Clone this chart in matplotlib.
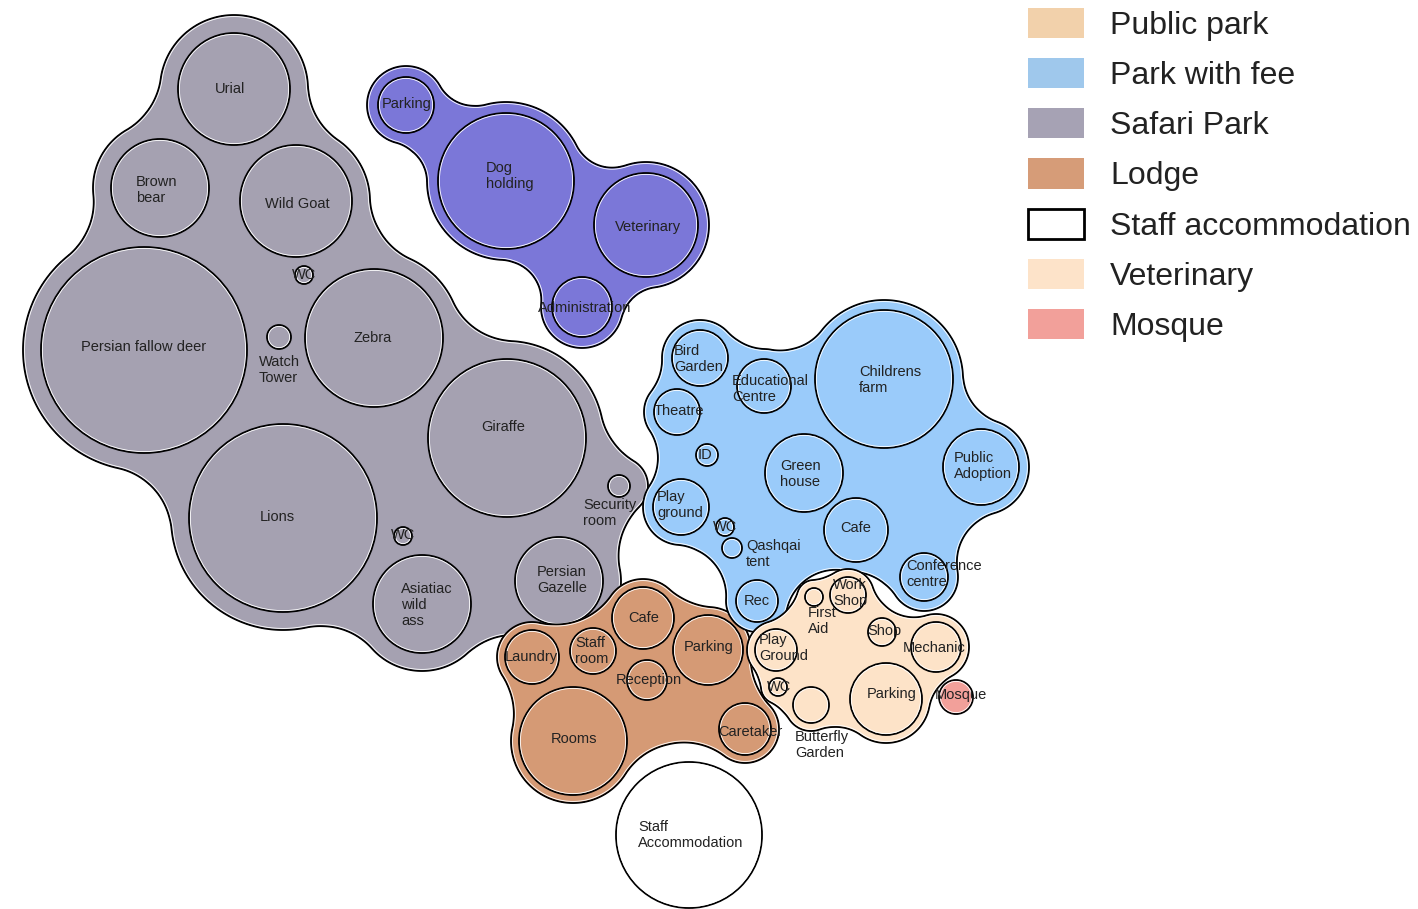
import matplotlib.pyplot as plt
import numpy as np
from matplotlib.patches import Circle, Patch
from contourpy import contour_generator

plt.rcParams['font.family'] = ['Liberation Sans', 'DejaVu Sans']

W, H = 1418, 909

# Safari Park
safari_names = ['Urial', 'Brown\nbear', 'Wild Goat', 'WC', 'Persian fallow deer', 'Watch\nTower',
                'Zebra', 'Giraffe', 'Security\nroom', 'Persian\nGazelle', 'Lions', 'WC', 'Asiatiac\nwild\nass']
safari_x = [234, 160, 296, 304, 144, 279, 374, 507, 619, 559, 283, 403, 422]
safari_y = [89, 188, 201, 275, 350, 337, 338, 438, 486, 581, 518, 536, 604]
safari_r = [56, 49, 56, 9, 103, 12, 69, 79, 11, 44, 94, 9, 49]
safari_lx = [215, 136, 265, 292, 81, 259, 354, 481, 583, 537, 260, 391, 401]
safari_ly = [89, 190, 204, 275, 347, 370, 338, 427, 513, 580, 517, 535, 605]

# Dog holding area (not in the legend)
dog_names = ['Parking', 'Dog\nholding', 'Veterinary', 'Administration']
dog_x = [406, 506, 646, 582]
dog_y = [105, 181, 225, 307]
dog_r = [28, 68, 52, 30]
dog_lx = [382, 486, 615, 538]
dog_ly = [104, 176, 227, 308]

# Park with fee
fee_names = ['Bird\nGarden', 'Educational\nCentre', 'Childrens\nfarm', 'Theatre', 'ID', 'Green\nhouse',
             'Public\nAdoption', 'Play\nground', 'WC', 'Qashqai\ntent', 'Cafe', 'Conference\ncentre', 'Rec']
fee_x = [700, 764, 884, 677, 707, 804, 981, 681, 725, 732, 856, 924, 757]
fee_y = [358, 386, 379, 412, 455, 473, 467, 507, 527, 548, 530, 577, 601]
fee_r = [28, 27, 69, 23, 11, 39, 38, 28, 9, 10, 32, 24, 21]
fee_lx = [674, 732, 859, 654, 698, 780, 954, 657, 713, 746, 840, 906, 744]
fee_ly = [359, 389, 380, 411, 455, 474, 466, 505, 527, 554, 528, 574, 601]

# Lodge
lodge_names = ['Cafe', 'Laundry', 'Staff\nroom', 'Parking', 'Reception', 'Rooms', 'Caretaker']
lodge_x = [643, 532, 593, 708, 647, 573, 745]
lodge_y = [618, 657, 651, 650, 680, 741, 729]
lodge_r = [31, 27, 23, 35, 20, 54, 26]
lodge_lx = [628, 505, 575, 684, 616, 551, 718]
lodge_ly = [618, 657, 651, 647, 680, 739, 732]

# Veterinary (light peach)
vet_names = ['First\nAid', 'Work\nShop', 'Shop', 'Mechanic', 'Play\nGround', 'WC', 'Butterfly\nGarden', 'Parking']
vet_x = [814, 848, 882, 936, 776, 778, 811, 886]
vet_y = [597, 595, 632, 647, 650, 687, 705, 699]
vet_r = [9, 18, 14, 25, 21, 9, 18, 36]
vet_lx = [808, 833, 867, 903, 759, 767, 795, 867]
vet_ly = [621, 593, 631, 648, 648, 687, 745, 694]

# single circles
staff_xyr = (689, 835, 73)
mosque_xyr = (956, 697, 17)

legend_labels = ['Public park', 'Park with fee', 'Safari Park', 'Lodge',
                 'Staff accommodation', 'Veterinary', 'Mosque']
legend_colors = ['#f2d1ab', '#9fc8ec', '#a6a2b4', '#d69c78', '#ffffff', '#fde3c9', '#f2a09a']

groups = [
    # names, x, y, r, lx, ly, fill, margin, closing radius
    (safari_names, safari_x, safari_y, safari_r, safari_lx, safari_ly, '#a5a1b1', 18, 85),
    (dog_names, dog_x, dog_y, dog_r, dog_lx, dog_ly, '#7b77d8', 11, 50),
    (lodge_names, lodge_x, lodge_y, lodge_r, lodge_lx, lodge_ly, '#d59a75', 8, 75),
    (fee_names, fee_x, fee_y, fee_r, fee_lx, fee_ly, '#9acbfa', 10, 60),
    (vet_names, vet_x, vet_y, vet_r, vet_lx, vet_ly, '#fde3c8', 8, 50),
]

fig = plt.figure(figsize=(W / 100, H / 100), dpi=100)
ax = fig.add_axes([0, 0, 1, 1])
ax.set_xlim(0, W)
ax.set_ylim(H, 0)
ax.set_aspect('equal')
ax.axis('off')

step = 2.0
gxs = np.arange(-150, W + 150, step)
gys = np.arange(-150, H + 150, step)
GX, GY = np.meshgrid(gxs, gys)


def blob_field(xs, ys, rs, margin, R):
    # morphological closing of the circles: grow by R, shrink back by R - margin
    m = np.min([np.hypot(GX - x, GY - y) - r for x, y, r in zip(xs, ys, rs)], axis=0)
    pts = np.concatenate(contour_generator(gxs, gys, m).lines(R))
    g = R - m
    band = (m > margin - 8) & (m < R)
    P = np.column_stack([GX[band], GY[band]])
    d = np.empty(len(P))
    for i in range(0, len(P), 2000):
        c = P[i:i + 2000]
        dd = (c[:, None, 0] - pts[None, :, 0]) ** 2 + (c[:, None, 1] - pts[None, :, 1]) ** 2
        d[i:i + 2000] = np.sqrt(dd.min(axis=1))
    g[band] = d
    return g


def bubble(x, y, r, fc, z):
    ax.add_patch(Circle((x, y), r, facecolor=fc, edgecolor='black', lw=1.3, zorder=z))
    ax.add_patch(Circle((x, y), r - 1.4, facecolor='none', edgecolor='white', lw=0.6, zorder=z))


z = 1
for names, xs, ys, rs, lxs, lys, fc, margin, R in groups:
    g = blob_field(xs, ys, rs, margin, R)
    lev = R - margin
    ax.contourf(GX, GY, g, levels=[lev, 1e9], colors=[fc], zorder=z)
    ax.contour(GX, GY, g, levels=[lev], colors='black', linewidths=1.3, zorder=z + 0.1)
    ax.contour(GX, GY, g, levels=[lev + 1.6], colors='white', linewidths=0.6, zorder=z + 0.1)
    for x, y, r in zip(xs, ys, rs):
        bubble(x, y, r, fc, z + 0.2)
    for name, lx, ly in zip(names, lxs, lys):
        ax.text(lx, ly, name, ha='left', va='center', fontsize=10.5, color='#222222',
                linespacing=1.2, zorder=z + 0.3)
    z += 1

bubble(*staff_xyr, '#ffffff', z)
ax.text(638, 835, 'Staff\nAccommodation', ha='left', va='center', fontsize=10.5,
        color='#222222', zorder=z + 0.3)
bubble(*mosque_xyr, '#f2a09a', z)
ax.text(935, 695, 'Mosque', ha='left', va='center', fontsize=10.5, color='#222222', zorder=z + 0.3)

handles = [Patch(facecolor=c, edgecolor='black' if c == '#ffffff' else c,
                 lw=2 if c == '#ffffff' else 0) for c in legend_colors]
ax.legend(handles, legend_labels, loc='upper left', bbox_to_anchor=(1020 / W, 1.0),
          frameon=False, fontsize=23, handlelength=1.75, handleheight=1.07,
          handletextpad=0.82, labelspacing=0.54, borderpad=0.1, borderaxespad=0.15,
          labelcolor='#222222')

fig.savefig('out.png', dpi=100)
